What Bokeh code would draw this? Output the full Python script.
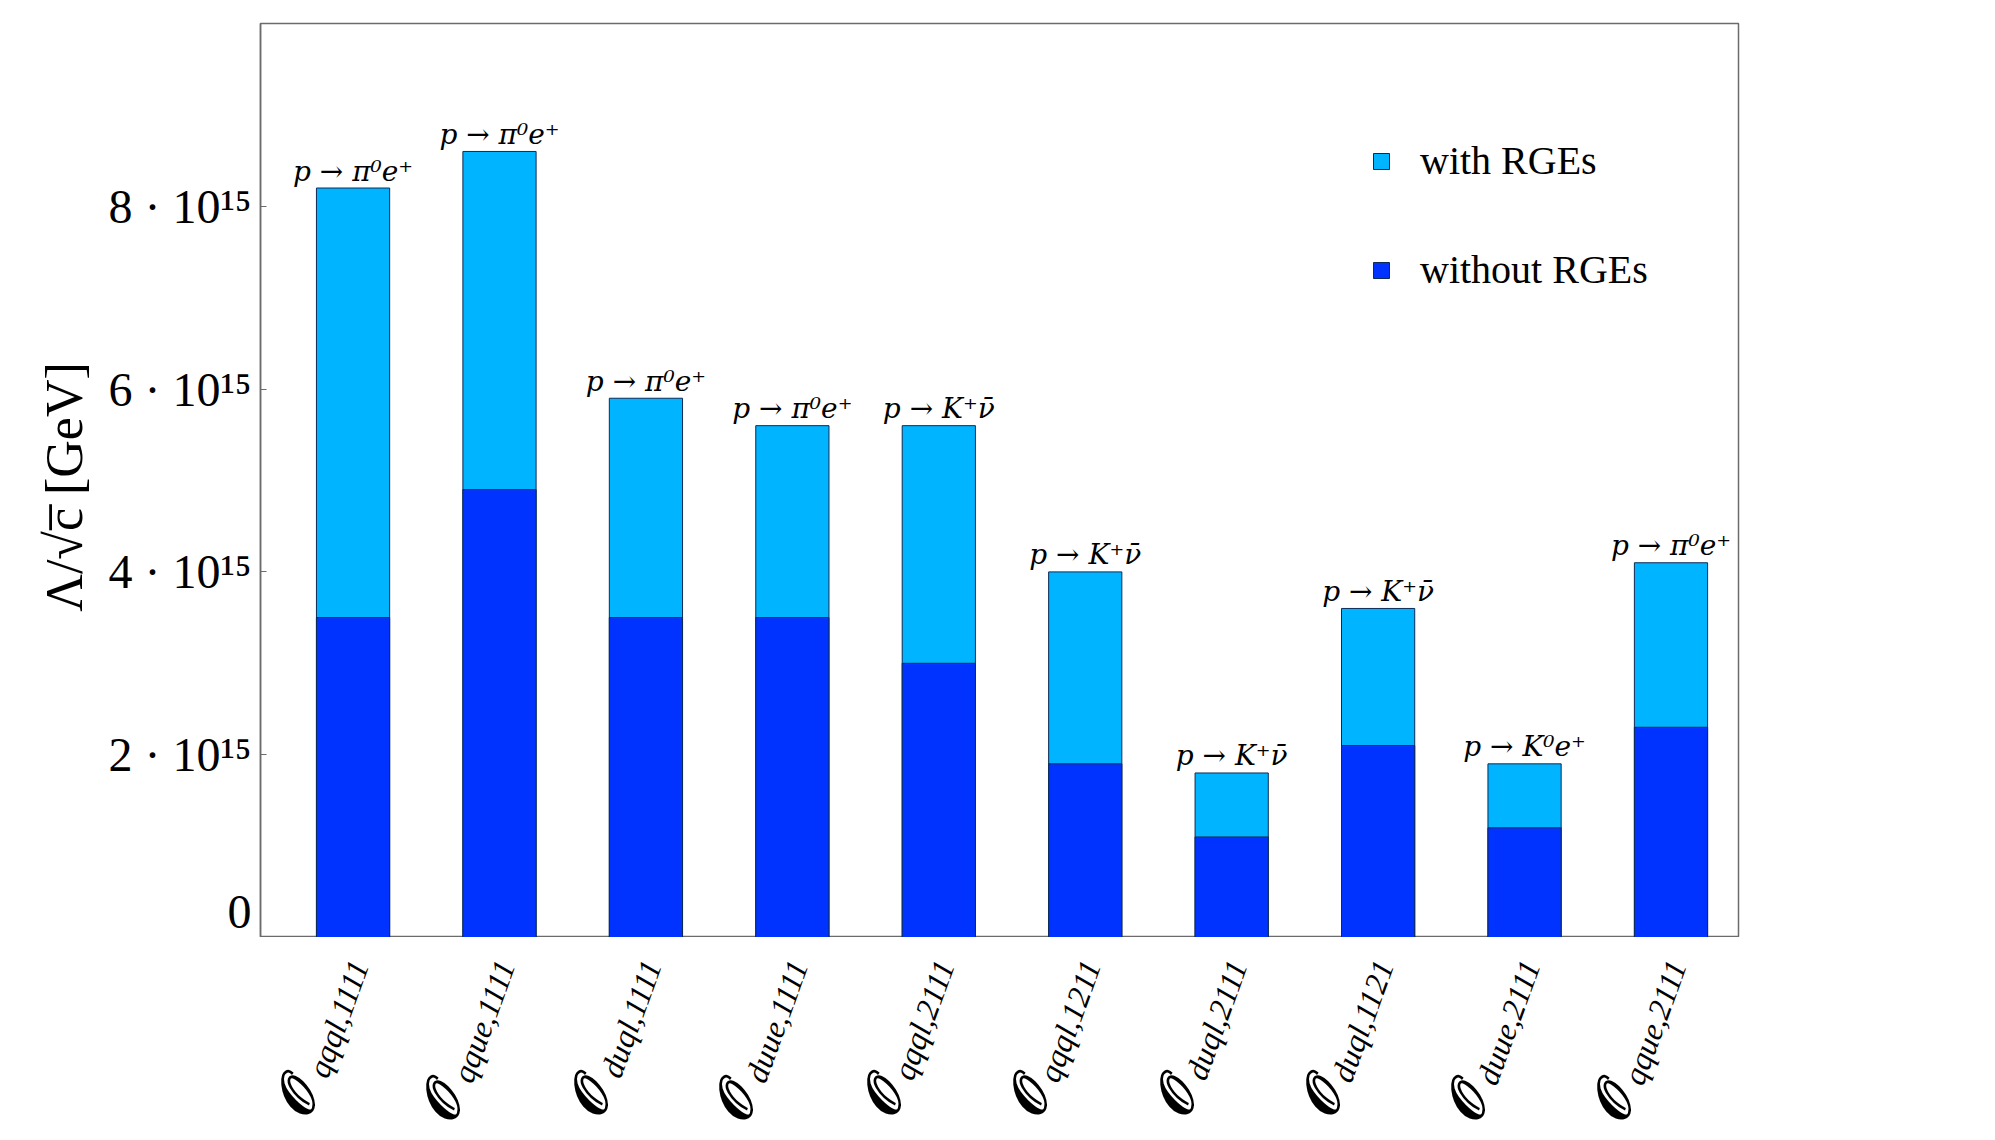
import math
from bokeh.plotting import figure
from bokeh.layouts import column
from bokeh.models import Range1d, FixedTicker, Legend, LegendItem, ColumnDataSource
from bokeh.core.properties import value
from bokeh.embed import file_html
from bokeh.resources import INLINE

# ---------------- data ----------------
operators = ["qqql,1111", "qque,1111", "duql,1111", "duue,1111", "qqql,2111",
             "qqql,1211", "duql,2111", "duql,1121", "duue,2111", "qque,2111"]
with_rge = [8.2e15, 8.6e15, 5.9e15, 5.6e15, 5.6e15, 4.0e15, 1.8e15, 3.6e15, 1.9e15, 4.1e15]
without_rge = [3.5e15, 4.9e15, 3.5e15, 3.5e15, 3.0e15, 1.9e15, 1.1e15, 2.1e15, 1.2e15, 2.3e15]
channels = ["p → π⁰e⁺", "p → π⁰e⁺", "p → π⁰e⁺", "p → π⁰e⁺", "p → K⁺ν̄",
            "p → K⁺ν̄", "p → K⁺ν̄", "p → K⁺ν̄", "p → K⁰e⁺", "p → π⁰e⁺"]
y_ticks = [0, 2e15, 4e15, 6e15, 8e15]
y_tick_labels = ["0", "2 · 10¹⁵", "4 · 10¹⁵", "6 · 10¹⁵", "8 · 10¹⁵"]
series_names = ["with RGEs", "without RGEs"]
y_title = "Λ/√c̅  [GeV]"

xs = list(range(1, len(operators) + 1))

FONT = "Liberation Serif"
LIGHT = "#00b4ff"
DARK = "#0033ff"
EDGE = "#0d2b55"
GRAY = "#6b6b6b"
LEFT, RIGHT, TOP = 260, 230, 23
FW, FH = 1478, 914

p = figure(frame_width=FW, frame_height=FH,
           min_border_left=LEFT, min_border_top=TOP, min_border_right=RIGHT, min_border_bottom=0,
           x_range=Range1d(0.368, 10.461), y_range=Range1d(0, 1.0e16),
           output_backend="svg", toolbar_location=None,
           background_fill_color="white", border_fill_color="white")

p.xgrid.visible = False
p.ygrid.visible = False
p.outline_line_color = GRAY
p.outline_line_width = 1.5
p.xaxis.visible = False

# y axis
p.yaxis.ticker = FixedTicker(ticks=y_ticks)
p.yaxis.major_label_overrides = {t: l for t, l in zip(y_ticks, y_tick_labels)}
p.yaxis.major_label_text_font = FONT
p.yaxis.major_label_text_font_size = "48px"
p.yaxis.major_label_text_color = "black"
p.yaxis.major_label_standoff = 9
p.yaxis.major_tick_in = 6
p.yaxis.major_tick_out = 0
p.yaxis.minor_tick_line_color = None
p.yaxis.major_tick_line_color = GRAY
p.yaxis.axis_line_color = GRAY
p.yaxis.axis_line_width = 1.5
p.yaxis.axis_label = y_title
p.yaxis.axis_label_text_font = FONT
p.yaxis.axis_label_text_font_style = "normal"
p.yaxis.axis_label_text_font_size = "52px"
p.yaxis.axis_label_text_color = "black"
p.yaxis.axis_label_standoff = 12

# bars
r_with = p.vbar(x=xs, top=with_rge, width=0.5, fill_color=LIGHT,
                line_color=EDGE, line_width=1)
r_without = p.vbar(x=xs, top=without_rge, width=0.5, fill_color=DARK,
                   line_color=EDGE, line_width=1)

# decay channel annotations
p.text(x=xs, y=with_rge, text=channels, text_align="center",
       text_baseline="alphabetic", y_offset=-17,
       text_font=value("DejaVu Serif"), text_font_style="italic",
       text_font_size="28px", text_color="black")

legend = Legend(items=[LegendItem(label=series_names[0], renderers=[r_with]),
                       LegendItem(label=series_names[1], renderers=[r_without])],
                location=(1111, 644), glyph_width=20, glyph_height=20,
                label_standoff=29, spacing=62, padding=0, margin=0,
                label_height=45,
                border_line_alpha=0, background_fill_alpha=0,
                label_text_font=FONT, label_text_font_size="40px",
                label_text_color="black")
p.add_layout(legend)

# ---------------- rotated operator labels (strip below the axis) ----------------
q = figure(frame_width=FW, frame_height=200,
           min_border_left=LEFT, min_border_right=RIGHT, min_border_top=0, min_border_bottom=0,
           x_range=p.x_range, y_range=Range1d(0, 1),
           output_backend="svg", toolbar_location=None,
           background_fill_color="white", border_fill_color="white")
q.axis.visible = False
q.grid.visible = False
q.outline_line_color = None

theta = math.radians(70)
c, s = math.cos(theta), math.sin(theta)
ital_w = {"q": 500, "u": 500, "e": 444, "l": 278, "d": 500, ",": 250,
          "1": 500, "2": 500}
SUB = 32
Ex, Ey = 6, 24           # screen offsets (down positive) of subscript end
gap, up = 1, 13
sub_dx, sub_dy, o_dx, o_dy = [], [], [], []
for op in operators:
    w = SUB * sum(ital_w.get(ch, 500) for ch in op) / 1000.0
    sub_dx.append(Ex)
    sub_dy.append(Ey)
    Lx, Ly = Ex - w * c, Ey + w * s
    o_dx.append(Lx - gap * c - up * s)
    o_dy.append(Ly + gap * s - up * c)

src = ColumnDataSource(dict(x=xs, y=[1] * len(xs), sub=operators,
                            O=["𝒪"] * len(xs), sdx=sub_dx, sdy=sub_dy,
                            odx=o_dx, ody=o_dy))
q.text(x="x", y="y", text="sub", x_offset="sdx", y_offset="sdy", angle=theta,
       text_align="right", text_baseline="alphabetic", source=src,
       text_font=value(FONT), text_font_style="italic",
       text_font_size=f"{SUB}px", text_color="black")
q.text(x="x", y="y", text="O", x_offset="odx", y_offset="ody", angle=theta,
       text_align="right", text_baseline="alphabetic", source=src,
       text_font=value("DejaVu Serif"), text_font_style="bold",
       text_font_size="56px", text_color="black")

layout = column(p, q, spacing=0)
open("out.html", "w").write(file_html(layout, INLINE))
